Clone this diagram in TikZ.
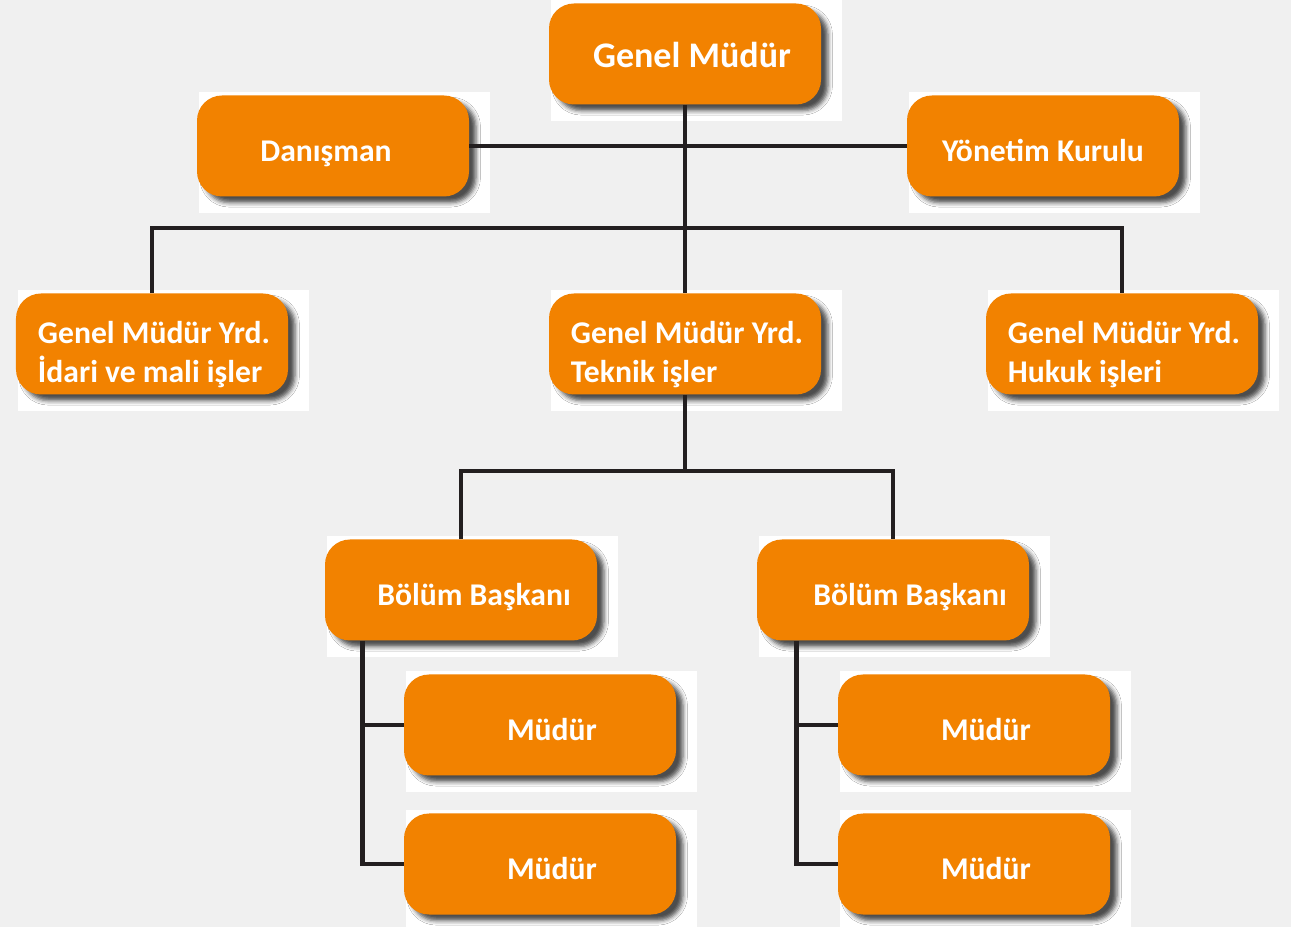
\documentclass[tikz,border=0pt]{standalone}
\usepackage{fontspec}
\setmainfont{Carlito}
\usepackage{tikz}
\usetikzlibrary{positioning, backgrounds, shadows.blur, calc}
\definecolor{orgorange}{RGB}{242,130,0}
\definecolor{linedark}{RGB}{35,31,32}
\definecolor{paper}{RGB}{240,240,240}
\tikzstyle{unit} = [rectangle, rounded corners=0.5cm, minimum width=5.44cm, minimum height=2.02cm, text centered, fill=orgorange, text=white, font=\bfseries\fontsize{18}{22}\selectfont, text height=19.5pt, text depth=1.4pt, blur shadow={shadow xshift=4pt, shadow yshift=-3.5pt, shadow blur radius=2.5pt, shadow opacity=70}]
\tikzstyle{head} = [unit, font=\bfseries\fontsize{20.5}{24}\selectfont, text height=17.3pt]
\tikzstyle{deputy} = [unit, align=left, text height=45pt]
\tikzstyle{link} = [line width=2.6pt, draw=linedark]

\begin{document}
\begin{tikzpicture}[node distance=2.78cm]
        \useasboundingbox (0,0) rectangle (25.82,-18.54);
        \node (gm) [head] at (13.70,-1.08) {\hspace*{0.28cm}Genel Müdür};
        \node (danisman) [unit, below of=gm, xshift=-7.04cm, yshift=0.94cm] {Danışman\hspace*{0.28cm}};
        \node (yonetim) [unit, below of=gm, xshift=7.16cm, yshift=0.94cm] {Yönetim Kurulu};
        \node (teknik) [deputy, below of=gm, yshift=-3.02cm] {\hspace*{0.08cm}Genel Müdür Yrd.\\\hspace*{0.08cm}Teknik işler};
        \node (idari) [deputy, left of=teknik, xshift=-7.88cm] {\hspace*{0.08cm}Genel Müdür Yrd.\\\hspace*{0.08cm}İdari ve mali işler};
        \node (hukuk) [deputy, right of=teknik, xshift=5.96cm] {\hspace*{0.08cm}Genel Müdür Yrd.\\\hspace*{0.08cm}Hukuk işleri};
        \node (baskan1) [unit, below of=teknik, xshift=-4.48cm, yshift=-2.14cm] {\hspace*{0.52cm}Bölüm Başkanı};
        \node (baskan2) [unit, below of=teknik, xshift=4.16cm, yshift=-2.14cm] {\hspace*{0.68cm}Bölüm Başkanı};
        \node (mudur1a) [unit, below of=baskan1, xshift=1.58cm, yshift=0.08cm] {\hspace*{0.48cm}Müdür};
        \node (mudur1b) [unit, below of=mudur1a] {\hspace*{0.48cm}Müdür};
        \node (mudur2a) [unit, below of=baskan2, xshift=1.62cm, yshift=0.08cm] {\hspace*{0.48cm}Müdür};
        \node (mudur2b) [unit, below of=mudur2a] {\hspace*{0.48cm}Müdür};

        \begin{scope}[on background layer]
        \fill[paper] (0,0) rectangle (25.82,-18.54);
        \foreach \n in {gm, danisman, yonetim, idari, teknik, hukuk, baskan1, baskan2, mudur1a, mudur1b, mudur2a, mudur2b}
            \fill[white] ([xshift=0.04cm, yshift=0.06cm]\n.north west) rectangle ([xshift=0.42cm, yshift=-0.32cm]\n.south east);
        \end{scope}

        \coordinate (split) at ([yshift=1.36cm]baskan1.north);
        \coordinate (trunk1) at ([xshift=0.76cm]baskan1.south west);
        \coordinate (trunk2) at ([xshift=0.80cm]baskan2.south west);

        \draw [link] (danisman.east) -- (yonetim.west);
        \draw [link] (gm.south) -- (teknik.north);
        \draw [link] (idari.north) -- ++(0,1.3) -| (hukuk.north);
        \draw [link] (teknik.south) -- (teknik.south |- split);
        \draw [link] (baskan1.north) -- (split) -| (baskan2.north);
        \draw [link] (trunk1) |- (mudur1b.west);
        \draw [link] (trunk1 |- mudur1a.west) -- (mudur1a.west);
        \draw [link] (trunk2) |- (mudur2b.west);
        \draw [link] (trunk2 |- mudur2a.west) -- (mudur2a.west);

        \end{tikzpicture}
\end{document}
